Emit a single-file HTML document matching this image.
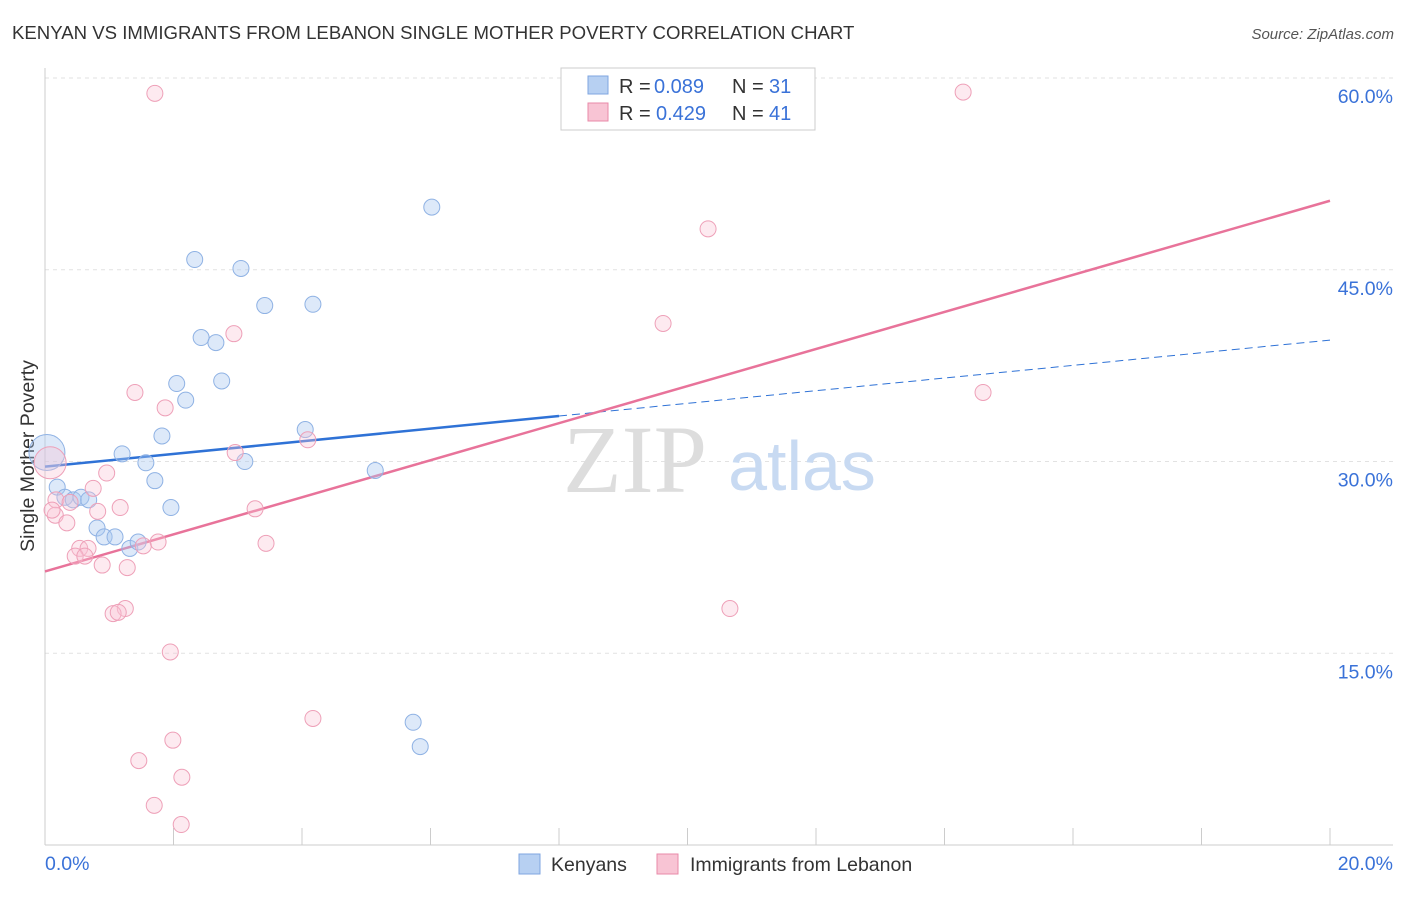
<!DOCTYPE html>
<html><head><meta charset="utf-8"><style>
body{margin:0;background:#fff;font-family:"Liberation Sans",sans-serif;}
</style></head><body>
<svg id="chart" width="1406" height="892" xmlns="http://www.w3.org/2000/svg">
<text x="12" y="39" font-size="18.6" fill="#333">KENYAN VS IMMIGRANTS FROM LEBANON SINGLE MOTHER POVERTY CORRELATION CHART</text>
<text x="1394" y="39" font-size="15" fill="#555" font-style="italic" text-anchor="end">Source: ZipAtlas.com</text>
<text x="34" y="456" font-size="19.5" fill="#333" text-anchor="middle" transform="rotate(-90 34 456)">Single Mother Poverty</text>
<g id="grid"></g><g id="ticks"></g>
<text x="635" y="492" font-size="96" fill="#ddd" font-family="Liberation Serif,serif" text-anchor="middle">ZIP</text>
<text x="802" y="490" font-size="70" fill="#c8daf2" text-anchor="middle">atlas</text>
<g id="lines"></g><g id="points"></g>
<g>
<rect x="561" y="68" width="254" height="62" fill="#fff" stroke="#ccc"/>
<rect x="588" y="76" width="20" height="18" fill="#b7d0f2" stroke="#7fa6e0"/>
<text x="619" y="93" font-size="20" fill="#333">R = </text><text x="654" y="93" font-size="20" fill="#3a72d8">0.089</text>
<text x="732" y="93" font-size="20" fill="#333">N = </text><text x="769" y="93" font-size="20" fill="#3a72d8">31</text>
<rect x="588" y="103" width="20" height="18" fill="#f8c4d4" stroke="#e98aa8"/>
<text x="619" y="120" font-size="20" fill="#333">R = </text><text x="656" y="120" font-size="20" fill="#3a72d8">0.429</text>
<text x="732" y="120" font-size="20" fill="#333">N = </text><text x="769" y="120" font-size="20" fill="#3a72d8">41</text>
</g>
<g>
<rect x="519" y="854" width="21" height="20" fill="#b7d0f2" stroke="#7fa6e0"/>
<text x="551" y="871" font-size="19.5" fill="#333">Kenyans</text>
<rect x="657" y="854" width="21" height="20" fill="#f8c4d4" stroke="#e98aa8"/>
<text x="690" y="871" font-size="19.5" fill="#333">Immigrants from Lebanon</text>
</g>
</svg>
<script>
const yTicks=[15,30,45,60];
const yTickLabels=["15.0%","30.0%","45.0%","60.0%"];
const xTickLabels=["0.0%","20.0%"];
const blueX=[0.03,0.19,0.31,0.44,0.56,0.68,0.81,0.92,1.09,1.20,1.32,1.45,1.57,1.71,1.82,1.96,2.05,2.19,2.33,2.43,2.66,2.75,3.05,3.11,3.42,4.05,4.17,5.14,5.73,5.84,6.02];
const blueY=[30.7,28.0,27.2,27.0,27.2,27.0,24.8,24.1,24.1,30.6,23.2,23.7,29.9,28.5,32.0,26.4,36.1,34.8,45.8,39.7,39.3,36.3,45.1,30.0,42.2,32.5,42.3,29.3,9.6,7.7,49.9];
const pinkX=[1.71,14.29,10.32,9.62,2.94,1.40,1.87,14.60,4.09,2.96,0.08,0.96,0.75,0.17,0.82,1.17,3.27,0.16,0.34,0.54,0.67,1.76,3.44,1.53,0.47,0.62,0.89,1.28,1.25,1.06,1.14,10.66,1.95,4.17,1.99,1.46,2.13,1.70,2.12,0.39,0.11];
const pinkY=[58.8,58.9,48.2,40.8,40.0,35.4,34.2,35.4,31.7,30.7,29.9,29.1,27.9,27.0,26.1,26.4,26.3,25.8,25.2,23.2,23.2,23.7,23.6,23.4,22.6,22.6,21.9,21.7,18.5,18.1,18.2,18.5,15.1,9.9,8.2,6.6,5.3,3.1,1.6,26.8,26.2];
const blueTrend=[29.6,39.5];
const pinkTrend=[21.4,50.4];
const NS="http://www.w3.org/2000/svg";
const X=v=>45+v*64.25, Y=v=>845-v*12.783;
function mk(t,a,p){const e=document.createElementNS(NS,t);for(const k in a)e.setAttribute(k,a[k]);document.getElementById(p).appendChild(e);return e;}
yTicks.forEach((t,i)=>{
 const g=mk('line',{x1:45,x2:1393,y1:Y(t),y2:Y(t),stroke:'#e2e2e2','stroke-dasharray':'4,4'},'grid');
 
 
 const l=mk('text',{x:1393,y:Y(t)+25,'font-size':19.5,fill:'#3a72d8','text-anchor':'end'},'ticks');l.textContent=yTickLabels[i];
 
 
});
const ax=mk('line',{x1:45,x2:45,y1:68,y2:845,stroke:'#ccc'},'grid');


const bx=mk('line',{x1:45,x2:1393,y1:845,y2:845,stroke:'#ccc'},'grid');


for(let v=2;v<=20;v+=2){const t=mk('line',{x1:X(v),x2:X(v),y1:828,y2:845,stroke:'#ccc'},'grid');
 
 }
[[0,'start',45],[20,'end',1393]].forEach((d,i)=>{const l=mk('text',{x:d[2],y:870,'font-size':19.5,fill:'#3a72d8','text-anchor':d[1]},'ticks');l.textContent=xTickLabels[i];
 
 });
const bAt=x=>blueTrend[0]+(blueTrend[1]-blueTrend[0])*x/20;
let l1=mk('line',{x1:X(0),y1:Y(bAt(0)),x2:X(8),y2:Y(bAt(8)),stroke:'#2f72d6','stroke-width':2.5},'lines');


let l2=mk('line',{x1:X(8),y1:Y(bAt(8)),x2:X(20),y2:Y(bAt(20)),stroke:'#2f72d6','stroke-width':1,'stroke-dasharray':'8,5'},'lines');


let l3=mk('line',{x1:X(0),y1:Y(pinkTrend[0]),x2:X(20),y2:Y(pinkTrend[1]),stroke:'#e8739a','stroke-width':2.5},'lines');


blueX.forEach((x,i)=>{const c=mk('circle',{cx:X(x),cy:Y(blueY[i]),r:i==0?18:8,fill:'rgba(170,200,240,0.4)',stroke:'#8fb2e4','stroke-width':1},'points');
 
 });
pinkX.forEach((x,i)=>{const c=mk('circle',{cx:X(x),cy:Y(pinkY[i]),r:i==10?16:8,fill:'rgba(248,195,212,0.35)',stroke:'#eea0b8','stroke-width':1},'points');
 
 });
</script>
</body></html>
